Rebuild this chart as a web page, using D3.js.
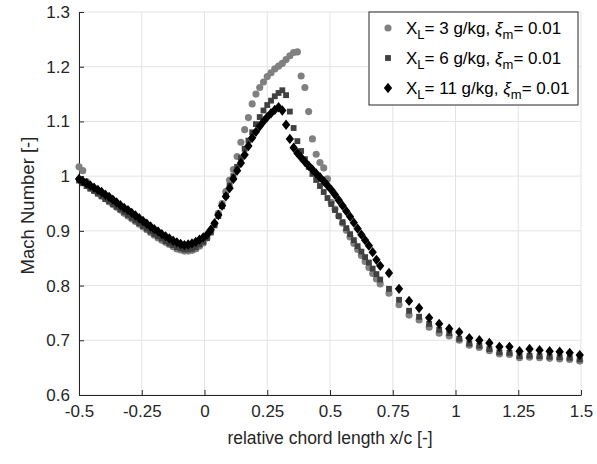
<!DOCTYPE html>
<html>
<head>
<meta charset="utf-8">
<script src="https://cdn.jsdelivr.net/npm/d3@7"></script>
<style>
  body { margin: 0; background: #fff; }
  svg { font-family: Helvetica, Arial, "Liberation Sans", sans-serif; }
</style>
</head>
<body>
<div id="chart"></div>
<script>
// measurement positions x/c (same taps for every run)
const xPos = [
  -0.500,-0.485,-0.470,-0.455,-0.440,-0.425,-0.410,-0.395,-0.380,-0.365,
  -0.350,-0.335,-0.320,-0.305,-0.290,-0.275,-0.260,-0.245,-0.230,-0.215,
  -0.200,-0.185,-0.170,-0.155,-0.140,-0.125,-0.110,-0.095,-0.080,-0.065,
  -0.050,-0.035,-0.020,-0.005,0.010,0.025,0.040,0.055,0.070,0.085,
  0.100,0.115,0.130,0.145,0.160,0.175,0.190,0.205,0.220,0.235,
  0.250,0.265,0.280,0.295,0.310,0.325,0.340,0.355,0.370,0.385,
  0.400,0.415,0.430,0.445,0.460,0.475,0.490,0.505,0.520,0.535,
  0.550,0.565,0.580,0.595,0.610,0.625,0.640,0.655,0.670,0.685,
  0.700,
  0.735,0.775,0.815,0.855,0.895,0.935,0.975,1.015,1.055,1.095,
  1.135,1.175,1.215,1.255,1.295,1.335,1.375,1.415,1.455,1.495
];

// X_L = 3 g/kg
const mach3 = [
  1.017,1.010,0.990,0.979,0.974,0.969,0.964,0.959,0.953,0.948,
  0.943,0.938,0.932,0.927,0.922,0.917,0.912,0.907,0.902,0.897,
  0.892,0.887,0.883,0.879,0.875,0.871,0.867,0.865,0.863,0.863,
  0.864,0.867,0.872,0.878,0.887,0.898,0.913,0.932,0.950,0.972,
  0.993,1.012,1.036,1.062,1.085,1.107,1.132,1.150,1.162,1.172,
  1.182,1.189,1.196,1.201,1.206,1.213,1.220,1.226,1.227,1.183,
  1.162,1.118,1.068,1.040,1.025,1.015,0.995,0.952,0.940,0.927,
  0.914,0.901,0.889,0.877,0.866,0.855,0.844,0.833,0.822,0.812,
  0.803,
  0.786,0.765,0.746,0.737,0.724,0.713,0.708,0.700,0.691,0.687,
  0.681,0.675,0.674,0.668,0.669,0.668,0.667,0.666,0.665,0.662
];

// X_L = 6 g/kg
const mach6 = [
  0.992,0.987,0.982,0.977,0.973,0.968,0.963,0.958,0.954,0.949,
  0.944,0.939,0.934,0.929,0.924,0.919,0.914,0.909,0.904,0.899,
  0.894,0.890,0.886,0.881,0.877,0.874,0.870,0.868,0.866,0.866,
  0.867,0.870,0.875,0.880,0.887,0.897,0.910,0.927,0.945,0.964,
  0.983,1.000,1.017,1.033,1.050,1.065,1.080,1.095,1.108,1.120,
  1.130,1.138,1.146,1.152,1.157,1.148,1.118,1.088,1.064,1.046,
  1.031,1.017,1.004,0.993,0.982,0.971,0.960,0.949,0.938,0.927,
  0.916,0.905,0.894,0.883,0.872,0.862,0.852,0.842,0.831,0.821,
  0.811,
  0.794,0.774,0.754,0.743,0.730,0.719,0.713,0.703,0.694,0.690,
  0.684,0.678,0.677,0.671,0.672,0.671,0.670,0.669,0.668,0.665
];

// X_L = 11 g/kg
const mach11 = [
  0.995,0.991,0.987,0.983,0.979,0.975,0.971,0.966,0.962,0.957,
  0.952,0.947,0.942,0.938,0.933,0.928,0.923,0.918,0.913,0.908,
  0.903,0.899,0.894,0.890,0.886,0.882,0.879,0.876,0.874,0.875,
  0.877,0.880,0.884,0.888,0.893,0.902,0.914,0.929,0.946,0.963,
  0.978,0.995,1.010,1.024,1.039,1.055,1.070,1.081,1.091,1.100,
  1.108,1.115,1.121,1.126,1.120,1.094,1.068,1.052,1.042,1.034,
  1.026,1.019,1.012,1.005,0.998,0.991,0.983,0.975,0.966,0.956,
  0.946,0.936,0.926,0.915,0.904,0.893,0.883,0.873,0.861,0.847,
  0.836,
  0.823,0.794,0.772,0.759,0.741,0.730,0.721,0.715,0.704,0.700,
  0.695,0.688,0.688,0.680,0.684,0.682,0.680,0.679,0.677,0.673
];

const xTicks = [-0.5, -0.25, 0, 0.25, 0.5, 0.75, 1, 1.25, 1.5];
const yTicks = [0.6, 0.7, 0.8, 0.9, 1.0, 1.1, 1.2, 1.3];
const loadings = ["3", "6", "11"];

const W = 597, H = 464;
const margin = { top: 12, right: 16, bottom: 69, left: 79 };
const width = W - margin.left - margin.right;
const height = H - margin.top - margin.bottom;

const svg = d3.select("#chart")
  .append("svg")
  .attr("width", W)
  .attr("height", H);

const g = svg.append("g")
  .attr("transform", `translate(${margin.left},${margin.top})`);

const x = d3.scaleLinear().domain([-0.5, 1.5]).range([0, width]);
const y = d3.scaleLinear().domain([0.6, 1.3]).range([height, 0]);

// plain hyphen minus like the matlab export
const fmt = d => String(+d.toFixed(2));

// matlab style diamond: a bit taller than wide
const diamond = {
  draw(ctx, size) {
    const h = Math.sqrt(size) * 0.78, w = h * 0.8;
    ctx.moveTo(0, -h); ctx.lineTo(w, 0); ctx.lineTo(0, h); ctx.lineTo(-w, 0); ctx.closePath();
  }
};

// grid
g.append("g")
  .selectAll("line")
  .data(xTicks)
  .enter().append("line")
  .attr("x1", d => x(d)).attr("x2", d => x(d))
  .attr("y1", 0).attr("y2", height)
  .attr("stroke", "#e3e3e3").attr("stroke-width", 1);

g.append("g")
  .selectAll("line")
  .data(yTicks)
  .enter().append("line")
  .attr("x1", 0).attr("x2", width)
  .attr("y1", d => y(d)).attr("y2", d => y(d))
  .attr("stroke", "#e3e3e3").attr("stroke-width", 1);

// axes
const xAxis = g.append("g")
  .attr("transform", `translate(0,${height})`)
  .call(d3.axisBottom(x).tickValues(xTicks).tickFormat(fmt).tickSizeInner(-5).tickSizeOuter(0).tickPadding(10));

const yAxis = g.append("g")
  .call(d3.axisLeft(y).tickValues(yTicks).tickFormat(fmt).tickSizeInner(-5).tickSizeOuter(0).tickPadding(9));

[xAxis, yAxis].forEach(a => {
  a.select(".domain").attr("stroke", "#262626");
  a.selectAll(".tick line").attr("stroke", "#262626");
  a.selectAll("text").attr("fill", "#262626").style("font-size", "17px");
});

// series
const series = [
  { values: mach3, color: "#808080", shape: d3.symbolCircle, size: 40 },
  { values: mach6, color: "#404040", shape: d3.symbolSquare, size: 34 },
  { values: mach11, color: "#000000", shape: diamond, size: 44 }
];

series.forEach(s => {
  g.append("g")
    .selectAll("path")
    .data(xPos.map((xv, i) => ({ x: xv, y: s.values[i] })))
    .enter().append("path")
    .attr("transform", d => `translate(${x(d.x)},${y(d.y)})`)
    .attr("d", d3.symbol().type(s.shape).size(s.size))
    .attr("fill", s.color);
});

// axis titles
g.append("text")
  .attr("text-anchor", "middle")
  .attr("x", width / 2)
  .attr("y", height + 49)
  .attr("fill", "#262626")
  .style("font-size", "17.5px")
  .text("relative chord length x/c [-]");

g.append("text")
  .attr("text-anchor", "middle")
  .attr("transform", "rotate(-90)")
  .attr("x", -height / 2 - 2)
  .attr("y", -45)
  .attr("fill", "#262626")
  .style("font-size", "18.5px")
  .text("Mach Number [-]");

// legend
const lg = svg.append("g").attr("transform", "translate(369,12)");
lg.append("rect")
  .attr("width", 209).attr("height", 93)
  .attr("fill", "#fff").attr("stroke", "#262626").attr("stroke-width", 1);

series.forEach((s, i) => {
  const row = lg.append("g").attr("transform", `translate(0,${16 + i * 30})`);
  row.append("path")
    .attr("transform", "translate(19,0)")
    .attr("d", d3.symbol().type(s.shape).size(s.size))
    .attr("fill", s.color);
  const t = row.append("text")
    .attr("x", 37).attr("y", 6)
    .attr("fill", "#000")
    .style("font-size", "17px");
  t.append("tspan").text("X");
  t.append("tspan").attr("dy", 5).style("font-size", "13px").text("L");
  t.append("tspan").attr("dy", -5).text(`= ${loadings[i]} g/kg, `);
  t.append("tspan").style("font-style", "italic").text("ξ");
  t.append("tspan").attr("dy", 5).style("font-size", "13px").text("m");
  t.append("tspan").attr("dy", -5).text("= 0.01");
});
</script>
</body>
</html>
